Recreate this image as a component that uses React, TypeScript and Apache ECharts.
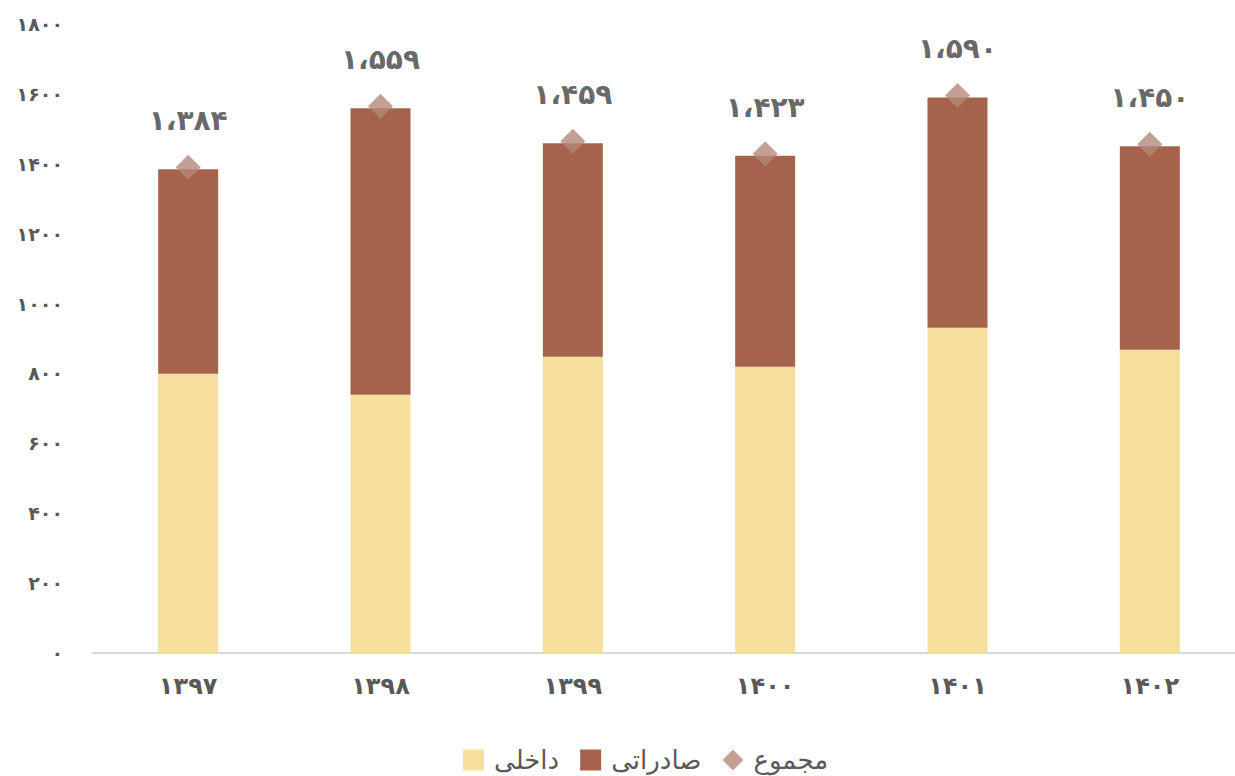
import React, { useEffect, useRef } from "react";
import * as echarts from "echarts";

const categories = ["۱۳۹۷", "۱۳۹۸", "۱۳۹۹", "۱۴۰۰", "۱۴۰۱", "۱۴۰۲"];
const domestic = [799, 739, 848, 819, 931, 868];
const exportsVals = [585, 820, 611, 604, 659, 582];
const totals = [1384, 1559, 1459, 1423, 1590, 1450];
const seriesNames = ["داخلی", "صادراتی", "مجموع"];

const FONT = "DejaVu Sans";
const faDigits = "۰۱۲۳۴۵۶۷۸۹";
const toFa = (s: string) => s.replace(/[0-9]/g, (d) => faDigits[Number(d)]);
const fmtThousands = (v: number) =>
  toFa(String(v).replace(/\B(?=(\d{3})+(?!\d))/g, "،"));

export default function App() {
  const ref = useRef<HTMLDivElement>(null);
  useEffect(() => {
    if (!ref.current) return;
    const chart = echarts.init(ref.current, null, { renderer: "svg" });
    chart.setOption({
      animation: false,
      backgroundColor: "#ffffff",
      grid: { left: 92, top: 24, width: 1154, height: 629, containLabel: false },
      legend: {
        left: 458,
        top: 742,
        itemWidth: 21,
        itemHeight: 21,
        itemGap: 21,
        textStyle: {
          fontFamily: FONT,
          fontSize: 26,
          color: "#595959",
          padding: [0, 0, 0, 5],
        },
        data: [
          { name: seriesNames[0], icon: "rect" },
          { name: seriesNames[1], icon: "rect" },
          { name: seriesNames[2], icon: "diamond" },
        ],
      },
      xAxis: {
        type: "category",
        data: categories,
        axisLine: { show: true, lineStyle: { color: "#d9d9d9", width: 2 } },
        axisTick: { show: false },
        axisLabel: {
          margin: 21,
          fontFamily: FONT,
          fontSize: 24,
          fontWeight: "bold",
          color: "#595959",
        },
      },
      yAxis: {
        type: "value",
        min: 0,
        max: 1800,
        interval: 200,
        splitLine: { show: false },
        axisLine: { show: false },
        axisTick: { show: false },
        axisLabel: {
          margin: 29,
          fontFamily: FONT,
          fontSize: 19,
          fontWeight: "bold",
          color: "#595959",
          formatter: (v: number) => toFa(String(v)),
        },
      },
      series: [
        {
          name: seriesNames[0],
          type: "bar",
          stack: "total",
          barWidth: 60,
          data: domestic,
          itemStyle: { color: "#F6DF9C" },
        },
        {
          name: seriesNames[1],
          type: "bar",
          stack: "total",
          barWidth: 60,
          data: exportsVals,
          itemStyle: { color: "#A5634C" },
        },
        {
          name: seriesNames[2],
          type: "scatter",
          symbol: "diamond",
          symbolSize: 25,
          symbolOffset: [0, -2],
          data: totals,
          itemStyle: { color: "#B5877A" },
          label: {
            show: true,
            position: "top",
            distance: 20,
            fontFamily: FONT,
            fontSize: 28,
            fontWeight: "bold",
            color: "#404040",
            formatter: (p: any) => fmtThousands(p.value),
          },
          z: 5,
        },
      ],
    });
    return () => chart.dispose();
  }, []);
  return (
    <div
      style={{
        position: "absolute",
        left: 0,
        top: 0,
        width: 1235,
        height: 776,
        overflow: "hidden",
      }}
    >
      <div ref={ref} style={{ width: 1250, height: 776 }} />
    </div>
  );
}
